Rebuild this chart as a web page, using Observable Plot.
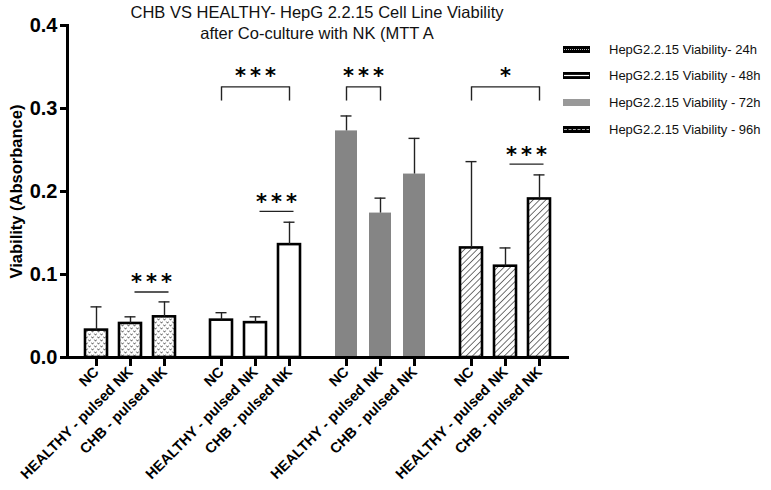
<!DOCTYPE html>
<html><head><meta charset="utf-8">
<script src="https://cdn.jsdelivr.net/npm/d3@7"></script>
<script src="https://cdn.jsdelivr.net/npm/@observablehq/plot@0.6"></script>
<style>
body{margin:0;background:#fff;font-family:"Liberation Sans",Arial,sans-serif;}
#wrap{position:relative;width:771px;height:490px;}
#title{position:absolute;top:2px;left:317px;transform:translateX(-50%);font-size:16.5px;line-height:21px;text-align:center;white-space:nowrap;color:#111;}
#legend{position:absolute;left:563px;top:0;}
.row{position:absolute;left:0;height:14px;display:flex;align-items:center;white-space:nowrap;font-size:13px;color:#111;}
.row svg{margin-right:19px;}
</style></head><body>
<svg width="0" height="0" style="position:absolute">
<defs>
<pattern id="p24" width="6" height="6" patternUnits="userSpaceOnUse">
 <rect width="6" height="6" fill="white"/>
 <path d="M0.4,0.6 L1.5,2.2 L2.6,0.6 M3.4,3.6 L4.5,5.2 L5.6,3.6" fill="none" stroke="#333" stroke-width="0.8"/>
</pattern>
<pattern id="p96" width="4.5" height="4.5" patternUnits="userSpaceOnUse" patternTransform="rotate(45)">
 <rect width="4.5" height="4.5" fill="white"/>
 <line x1="0" y1="0" x2="0" y2="4.5" stroke="black" stroke-width="1.1"/>
</pattern>
</defs></svg>
<div id="wrap">
  <div id="chart"></div>
  <div id="title"></div>
  <div id="legend"></div>
</div>
<script>
// ---- data ----
const groups = ["24h", "48h", "72h", "96h"];
const treatments = ["NC", "HEALTHY - pulsed NK", "CHB - pulsed NK"];
const mean24 = [0.033, 0.041, 0.049];
const sd24   = [0.028, 0.008, 0.018];
const mean48 = [0.045, 0.042, 0.136];
const sd48   = [0.009, 0.007, 0.027];
const mean72 = [0.273, 0.174, 0.221];
const sd72   = [0.018, 0.018, 0.043];
const mean96 = [0.132, 0.110, 0.191];
const sd96   = [0.104, 0.022, 0.029];
const yTicks = [0, 0.1, 0.2, 0.3, 0.4];

const titleLines = ["CHB VS HEALTHY- HepG 2.2.15 Cell Line Viability", "after Co-culture with NK (MTT A"];
const yLabel = "Viability (Absorbance)";
const legendLabels = ["HepG2.2.15 Viability- 24h", "HepG2.2.15 Viability - 48h", "HepG2.2.15 Viability - 72h", "HepG2.2.15 Viability - 96h"];

// significance brackets (NC vs ...)
const bracketGroup = ["48h", "72h", "96h"];
const bracketFrom  = ["NC", "NC", "NC"];
const bracketTo    = ["CHB - pulsed NK", "HEALTHY - pulsed NK", "CHB - pulsed NK"];
const bracketLabel = ["***", "***", "*"];
const bracketTop = 0.326, bracketLeg = 0.309, bracketText = 0.346;

// significance lines (HEALTHY vs CHB)
const lineGroup = ["24h", "48h", "96h"];
const lineY     = [0.079, 0.176, 0.233];
const lineTextY = [0.098, 0.194, 0.251];
const lineLabel = ["***", "***", "***"];

// ---- styles ----
const groupFill   = ["url(#p24)", "white", "#858585", "url(#p96)"];
const groupStroke = ["black", "black", "none", "black"];
const means = [mean24, mean48, mean72, mean96];
const sds   = [sd24, sd48, sd72, sd96];

const rows = groups.flatMap((g, i) => treatments.map((t, j) => ({
  g, t, mean: means[i][j], top: means[i][j] + sds[i][j], fill: groupFill[i], stroke: groupStroke[i]
})));
const brackets = bracketGroup.map((g, i) => ({g, from: bracketFrom[i], to: bracketTo[i], label: bracketLabel[i]}));
const legs = brackets.flatMap(b => [{g: b.g, t: b.from}, {g: b.g, t: b.to}]);
const sigLines = lineGroup.map((g, i) => ({g, y: lineY[i], ty: lineTextY[i], label: lineLabel[i]}));

const font = "Liberation Sans, Arial, sans-serif";
const starFont = "DejaVu Sans, sans-serif";
const ink = "#222";
const star = {fontFamily: starFont, fontWeight: "bold", fontSize: 21, dy: 6, fill: "black"};

const chart = Plot.plot({
  width: 771, height: 490,
  marginLeft: 66, marginRight: 203, marginTop: 25, marginBottom: 133,
  style: {fontFamily: font, background: "white", color: "black", overflow: "visible"},
  fx: {domain: groups, paddingInner: 0, paddingOuter: 0, axis: null, label: null},
  x: {domain: treatments, paddingInner: 0.36, paddingOuter: 0.5, axis: null, label: null},
  y: {domain: [0, 0.4], axis: null},
  color: {type: "identity"},
  marks: [
    Plot.barY(rows, {fx: "g", x: "t", y: "mean", fill: "fill", stroke: "stroke", strokeWidth: 2.6}),
    Plot.ruleX(rows, {fx: "g", x: "t", y1: "mean", y2: "top", stroke: ink, strokeWidth: 1.4}),
    Plot.tickY(rows, {fx: "g", x: "t", y: "top", stroke: ink, strokeWidth: 1.4, inset: 5.5}),
    // brackets
    Plot.link(brackets, {fx: "g", x1: "from", x2: "to", y1: () => bracketTop, y2: () => bracketTop, stroke: ink, strokeWidth: 1.4}),
    Plot.ruleX(legs, {fx: "g", x: "t", y1: () => bracketLeg, y2: () => bracketTop, stroke: ink, strokeWidth: 1.4}),
    Plot.text(brackets.filter(b => b.to === treatments[2]), {...star, fx: "g", x: () => treatments[1], y: () => bracketText, text: "label", dx: 2}),
    Plot.text(brackets.filter(b => b.to === treatments[1]), {...star, fx: "g", x: "from", y: () => bracketText, text: "label", dx: 19}),
    // lines
    Plot.link(sigLines, {fx: "g", x1: () => treatments[1], x2: () => treatments[2], y1: "y", y2: "y", stroke: ink, strokeWidth: 1.4, dx: 4}),
    Plot.text(sigLines, {...star, fx: "g", x: () => treatments[2], y: "ty", text: "label", dx: -11}),
    // axes
    Plot.axisX({tickSize: 9, tickPadding: 3, strokeWidth: 3, tickRotate: -45, fontSize: 14.5, fontWeight: "bold", label: null, fill: "black"}),
    Plot.axisY({ticks: yTicks, tickFormat: d3.format(".1f"), tickSize: 7, tickPadding: 3, strokeWidth: 3, fontSize: 20, fontWeight: "bold", label: null, fill: "black"}),
    Plot.frame({facet: "super", anchor: "bottom", strokeWidth: 3}),
    Plot.frame({facet: "super", anchor: "left", strokeWidth: 3}),
    Plot.text([yLabel], {facet: "super", frameAnchor: "left", textAnchor: "middle", rotate: -90, dx: -51, text: d => d, fontSize: 16.5, fontWeight: "bold", fill: "black"})
  ]
});
// spacing between significance asterisks
chart.querySelectorAll("text").forEach(t => {
  if (/^\*+$/.test(t.textContent)) t.setAttribute("letter-spacing", "4");
});
document.getElementById("chart").appendChild(chart);

// title
const title = document.getElementById("title");
titleLines.forEach(l => { const d = document.createElement("div"); d.textContent = l; title.appendChild(d); });

// legend
const legendTops = [42, 68, 95, 122];
const swatch = [
  `<rect width="27" height="7" fill="black"/><line x1="1" y1="3.5" x2="26" y2="3.5" stroke="#bbb" stroke-width="1" stroke-dasharray="1,1"/>`,
  `<rect width="27" height="7" fill="black"/><line x1="1" y1="3.5" x2="26" y2="3.5" stroke="white" stroke-width="1.2"/>`,
  `<rect width="27" height="7" fill="#999"/>`,
  `<rect width="27" height="7" fill="black"/><line x1="1" y1="3.5" x2="26" y2="3.5" stroke="#aaa" stroke-width="1" stroke-dasharray="3,1.5"/>`
];
const legend = document.getElementById("legend");
legendLabels.forEach((lab, i) => {
  const r = document.createElement("div");
  r.className = "row";
  r.style.top = legendTops[i] + "px";
  r.innerHTML = `<svg width="27" height="7">${swatch[i]}</svg><span></span>`;
  r.querySelector("span").textContent = lab;
  legend.appendChild(r);
});
</script>
</body></html>
